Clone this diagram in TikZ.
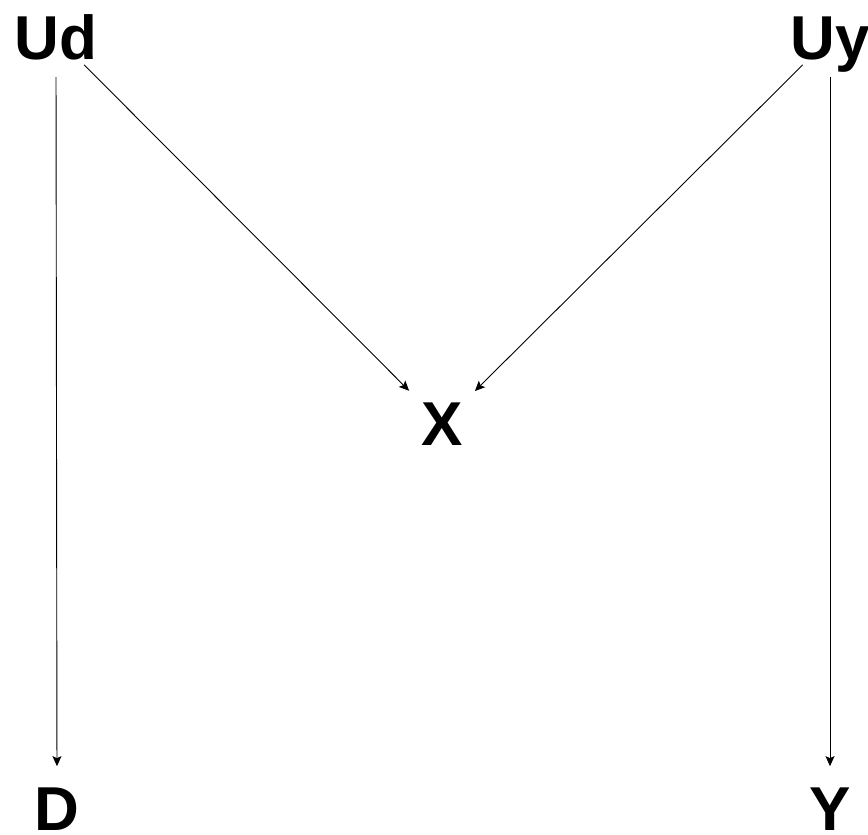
\documentclass[tikz,border=0pt]{standalone}
\usepackage{fontspec}
\setmainfont{Liberation Sans}
\usetikzlibrary{arrows.meta}
\tikzset{
  lbl/.style={font=\fontsize{62}{62}\selectfont\bfseries, inner sep=0pt, text depth=0pt, anchor=base},
  arr/.style={-{Stealth[length=10pt,width=9pt,inset=2pt]}, line width=0.9pt, black},
}
\begin{document}
\begin{tikzpicture}[x=1pt,y=-1pt]
\useasboundingbox (0,0) rectangle (868,835);
\node[lbl] (Ud) at (56,59) {Ud};
\node[lbl] (Uy) at (830,59) {Uy};
\node[lbl] (X) at (442,445) {X};
\node[lbl] (D) at (57,830) {D};
\node[lbl] (Y) at (830,830) {Y};
\draw[arr, shorten <=18pt, shorten >=21pt] (Ud.south) -- (D.north);
\draw[arr, shorten <=18pt, shorten >=21pt] (Uy.south) -- (Y.north);
\draw[arr, shorten <=8pt, shorten >=17pt] (Ud) -- (X);
\draw[arr, shorten <=8pt, shorten >=17pt] (Uy) -- (X);
\end{tikzpicture}
\end{document}
